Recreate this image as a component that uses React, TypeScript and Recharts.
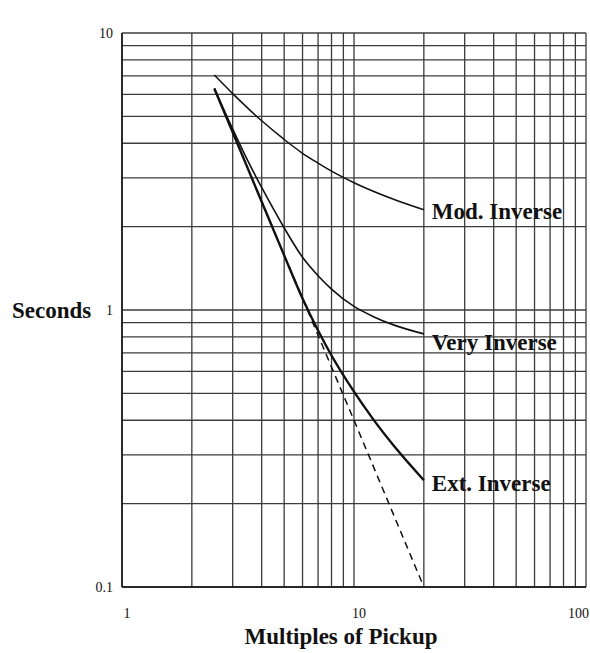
import React from "react";
import { LineChart, Line, XAxis, YAxis, CartesianGrid, ReferenceDot } from "recharts";

const xGrid = [1, 2, 3, 4, 5, 6, 7, 8, 9, 10, 20, 30, 40, 50, 60, 70, 80, 90, 100];
const yGrid = [0.1, 0.2, 0.3, 0.4, 0.5, 0.6, 0.7, 0.8, 0.9, 1, 2, 3, 4, 5, 6, 7, 8, 9, 10];
const xTickLabels = [1, 10, 100];
const yTickLabels = [0.1, 1, 10];

const modInverse = [
  { x: 2.5, y: 7.05 },
  { x: 3, y: 6.04 },
  { x: 4, y: 4.82 },
  { x: 5, y: 4.13 },
  { x: 6, y: 3.68 },
  { x: 7, y: 3.39 },
  { x: 8, y: 3.17 },
  { x: 10, y: 2.88 },
  { x: 15, y: 2.5 },
  { x: 20, y: 2.3 },
];

const veryInverse = [
  { x: 2.5, y: 6.3 },
  { x: 3, y: 4.5 },
  { x: 3.5, y: 3.43 },
  { x: 4, y: 2.77 },
  { x: 5, y: 1.98 },
  { x: 6, y: 1.55 },
  { x: 7, y: 1.33 },
  { x: 8, y: 1.19 },
  { x: 10, y: 1.03 },
  { x: 12, y: 0.95 },
  { x: 15, y: 0.88 },
  { x: 20, y: 0.82 },
];

const extInverse = [
  { x: 2.5, y: 6.3 },
  { x: 3, y: 4.38 },
  { x: 4, y: 2.46 },
  { x: 5, y: 1.575 },
  { x: 6, y: 1.1 },
  { x: 7, y: 0.843 },
  { x: 8, y: 0.685 },
  { x: 10, y: 0.507 },
  { x: 12, y: 0.407 },
  { x: 15, y: 0.32 },
  { x: 20, y: 0.243 },
];

const dashedAsymptote = [
  { x: 2.5, y: 6.3 },
  { x: 5, y: 1.58 },
  { x: 10, y: 0.4 },
  { x: 20, y: 0.1 },
];

const curveLabels = [
  { name: "Mod. Inverse", x: 20, y: 2.28 },
  { name: "Very Inverse", x: 20, y: 0.766 },
  { name: "Ext. Inverse", x: 20, y: 0.237 },
];

const FONT = "'Liberation Serif', 'DejaVu Serif', serif";

const XTick = (props: any) => {
  const { x, y, payload } = props;
  const v = Number(payload.value);
  const match = xTickLabels.find((t) => Math.abs(t - v) / t < 1e-6);
  if (match === undefined) return null;
  let anchor: "middle" | "end" = "middle";
  let tx = x + 5;
  if (match >= 100) {
    anchor = "end";
    tx = x + 3;
  }
  return (
    <text x={tx} y={y + 23} textAnchor={anchor} fontFamily={FONT} fontSize={14} fill="#111">
      {String(match)}
    </text>
  );
};

const YTick = (props: any) => {
  const { x, y, payload } = props;
  const v = Number(payload.value);
  const match = yTickLabels.find((t) => Math.abs(t - v) / t < 1e-6);
  if (match === undefined) return null;
  return (
    <text x={x - 1} y={y + 5} textAnchor="end" fontFamily={FONT} fontSize={14} fill="#111">
      {String(match)}
    </text>
  );
};

export default function App() {
  return (
    <div style={{ width: 590, height: 653, overflow: "hidden" }}>
      <style>{"html,body{margin:0;padding:0;}"}</style>
      <LineChart width={590} height={653} margin={{ top: 33, right: 4, bottom: 26, left: 82 }}>
        <CartesianGrid stroke="#3c3c3c" strokeWidth={1.3} />
        <XAxis
          type="number"
          dataKey="x"
          scale="log"
          domain={[1, 100]}
          ticks={xGrid}
          allowDataOverflow
          height={40}
          tickLine={false}
          axisLine={{ stroke: "#111", strokeWidth: 1.5 }}
          tick={<XTick />}
          interval={0}
          label={{
            content: (p: any) => {
              const vb = p.viewBox;
              return (
                <text
                  x={vb.x + vb.width / 2 - 13}
                  y={vb.y + 57}
                  textAnchor="middle"
                  fontFamily={FONT}
                  fontWeight="bold"
                  fontSize={23}
                  fill="#111"
                >
                  Multiples of Pickup
                </text>
              );
            },
          }}
        />
        <YAxis
          type="number"
          dataKey="y"
          scale="log"
          domain={[0.1, 10]}
          ticks={yGrid}
          allowDataOverflow
          width={40}
          tickLine={false}
          axisLine={{ stroke: "#111", strokeWidth: 1.5 }}
          tick={<YTick />}
          interval={0}
          label={{
            content: (p: any) => {
              const vb = p.viewBox;
              return (
                <text
                  x={12}
                  y={vb.y + vb.height / 2 + 8}
                  textAnchor="start"
                  fontFamily={FONT}
                  fontWeight="bold"
                  fontSize={23}
                  fill="#111"
                >
                  Seconds
                </text>
              );
            },
          }}
        />
        <Line
          data={dashedAsymptote}
          dataKey="y"
          type="linear"
          stroke="#111"
          strokeWidth={1.5}
          strokeDasharray="7 5"
          dot={false}
          isAnimationActive={false}
        />
        <Line
          data={modInverse}
          dataKey="y"
          type="monotone"
          stroke="#111"
          strokeWidth={1.5}
          dot={false}
          isAnimationActive={false}
        />
        <Line
          data={veryInverse}
          dataKey="y"
          type="monotone"
          stroke="#111"
          strokeWidth={1.6}
          dot={false}
          isAnimationActive={false}
        />
        <Line
          data={extInverse}
          dataKey="y"
          type="monotone"
          stroke="#111"
          strokeWidth={2.4}
          dot={false}
          isAnimationActive={false}
        />
        {curveLabels.map((c) => (
          <ReferenceDot
            key={c.name}
            x={c.x}
            y={c.y}
            r={0}
            fill="none"
            stroke="none"
            label={{
              value: c.name,
              position: "right",
              offset: 8,
              fontFamily: FONT,
              fontWeight: "bold",
              fontSize: 23,
              fill: "#111",
            }}
          />
        ))}
      </LineChart>
    </div>
  );
}
